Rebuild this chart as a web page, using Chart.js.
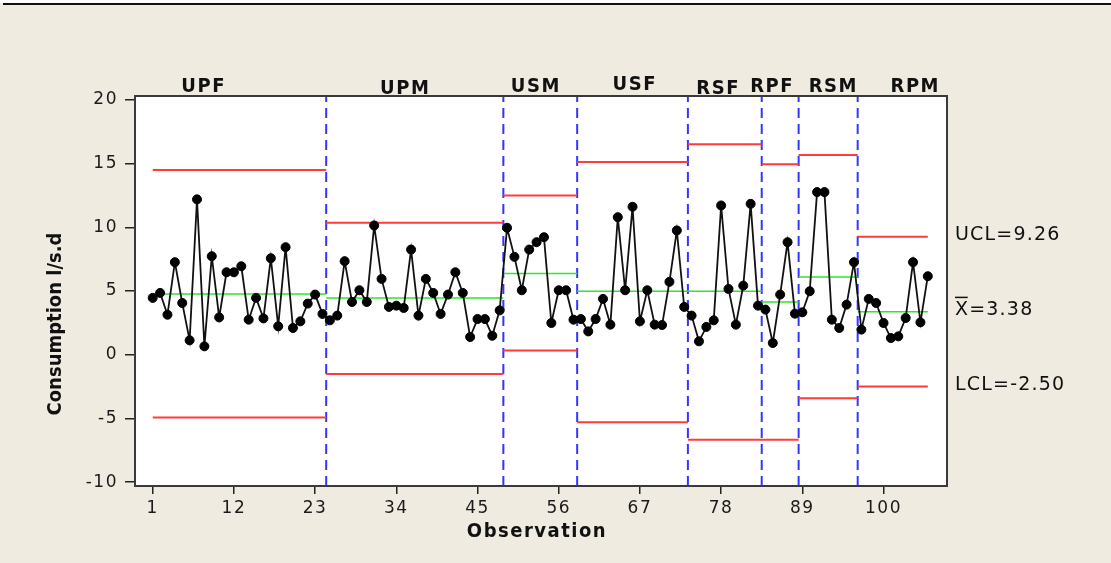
<!DOCTYPE html>
<html>
<head>
<meta charset="utf-8">
<script src="https://cdn.jsdelivr.net/npm/chart.js@4.4.1/dist/chart.umd.min.js"></script>
<style>
  html, body { margin: 0; padding: 0; background: #EFEBE1; }
  #c { display: block; }
</style>
</head>
<body>
<canvas id="c" width="1111" height="563"></canvas>
<script>
// ---- data ----
const groups   = ['UPF', 'UPM', 'USM', 'USF', 'RSF', 'RPF', 'RSM', 'RPM'];
const groupEnd = [24, 48, 58, 73, 83, 88, 96, 106];   // last observation of each group

const consumption = [
  // UPF
  4.46, 4.85, 3.14, 7.26, 4.06, 1.13, 12.19, 0.66, 7.73, 2.93, 6.47, 6.47,
  6.94, 2.75, 4.46, 2.85, 7.57, 2.23, 8.44, 2.10, 2.62, 4.01, 4.72, 3.20,
  // UPM
  2.70, 3.07, 7.34, 4.14, 5.06, 4.14, 10.14, 5.95, 3.75, 3.85, 3.67, 8.25,
  3.07, 5.95, 4.85, 3.20, 4.72, 6.47, 4.85, 1.39, 2.80, 2.80, 1.49, 3.48,
  // USM
  9.96, 7.68, 5.06, 8.25, 8.83, 9.22, 2.49, 5.06, 5.06, 2.75,
  // USF
  2.80, 1.83, 2.80, 4.38, 2.36, 10.79, 5.06, 11.61, 2.62, 5.06, 2.36, 2.33, 5.72, 9.75, 3.75,
  // RSF
  3.07, 1.05, 2.18, 2.70, 11.71, 5.16, 2.36, 5.42, 11.84, 3.85,
  // RPF
  3.54, 0.92, 4.72, 8.83, 3.22,
  // RSM
  3.33, 4.98, 12.76, 12.76, 2.75, 2.10, 3.93, 7.26,
  // RPM
  1.97, 4.38, 4.06, 2.49, 1.31, 1.44, 2.88, 7.26, 2.54, 6.16
];

const ucl = [14.49, 10.35, 12.50, 15.12, 16.51, 14.94, 15.67, 9.26];
const cl  = [4.77, 4.46, 6.37, 4.98, 4.98, 4.14, 6.10, 3.38];
const lcl = [-4.93, -1.52, 0.34, -5.29, -6.68, -6.68, -3.41, -2.50];

const xTicks = [1, 12, 23, 34, 45, 56, 67, 78, 89, 100];
const yTicks = [-10, -5, 0, 5, 10, 15, 20];

// label anchors (observation number at which each group name is centred)
const groupLabelAt = [7.8, 35.1, 52.8, 66.2, 77.5, 84.8, 93.1, 104.2];
const groupLabelLift = [4, 2, 4, 6, 2, 4, 4, 4];

// ---- build datasets ----
const seriesPts = consumption.map((v, i) => ({ x: i + 1, y: v }));

function segStart(i) { return i === 0 ? 1 : groupEnd[i - 1] + 0.5; }
function segStop(i)  { return i === groupEnd.length - 1 ? groupEnd[i] : groupEnd[i] + 0.5; }

function stepLine(vals) {
  const pts = [];
  vals.forEach((v, i) => {
    pts.push({ x: segStart(i), y: v });
    pts.push({ x: segStop(i), y: v });
    pts.push({ x: segStop(i), y: null });
  });
  return pts;
}

const Y_MIN = -10.3, Y_MAX = 20.3;
const boundaryPts = [];
groupEnd.slice(0, -1).forEach(e => {
  boundaryPts.push({ x: e + 0.5, y: Y_MIN });
  boundaryPts.push({ x: e + 0.5, y: Y_MAX });
  boundaryPts.push({ x: e + 0.5, y: null });
});

const FONT_TICK = { family: 'DejaVu Sans', size: 17 };

const decor = {
  id: 'decor',
  beforeDraw(chart) {
    const { ctx, chartArea: a } = chart;
    ctx.save();
    ctx.fillStyle = '#EFEBE1';
    ctx.fillRect(0, 0, chart.width, chart.height);
    ctx.fillStyle = '#ffffff';
    ctx.fillRect(0, 0, chart.width, 3);
    ctx.fillStyle = '#111111';
    ctx.fillRect(3, 3, chart.width - 3, 2);
    ctx.fillStyle = '#ffffff';
    ctx.fillRect(a.left, a.top, a.right - a.left, a.bottom - a.top);
    ctx.restore();
    ctx.letterSpacing = '1.5px';
  },
  afterDraw(chart) {
    const { ctx, chartArea: a, scales } = chart;
    const xs = scales.x, ys = scales.y;
    ctx.letterSpacing = '0px';
    ctx.save();
    // frame
    ctx.strokeStyle = '#3a3a3a';
    ctx.lineWidth = 2;
    ctx.strokeRect(a.left, a.top, a.right - a.left, a.bottom - a.top);

    ctx.fillStyle = '#111';
    // group labels
    ctx.font = 'bold 20px "DejaVu Sans Condensed", "DejaVu Sans"';
    ctx.textAlign = 'center';
    ctx.textBaseline = 'alphabetic';
    ctx.letterSpacing = '1.5px';
    groups.forEach((g, i) => {
      ctx.fillText(g, xs.getPixelForValue(groupLabelAt[i]) + 0.75, a.top - groupLabelLift[i]);
    });

    // x title
    ctx.letterSpacing = '1.5px';
    ctx.fillText('Observation', (a.left + a.right) / 2 - 4, 537);

    // y title
    ctx.letterSpacing = '0px';
    ctx.save();
    ctx.translate(61, 324);
    ctx.rotate(-Math.PI / 2);
    ctx.font = 'bold 20px "DejaVu Sans Condensed", "DejaVu Sans"';
    ctx.textAlign = 'center';
    ctx.fillText('Consumption l/s.d', 0, 0);
    ctx.restore();

    // limit labels (last group)
    const last = groups.length - 1;
    ctx.font = '19px "DejaVu Sans"';
    ctx.textAlign = 'left';
    ctx.textBaseline = 'middle';
    ctx.letterSpacing = '1.2px';
    const lx = a.right + 8;
    ctx.fillText('UCL=' + ucl[last].toFixed(2), lx, ys.getPixelForValue(ucl[last]) - 2);
    ctx.fillText('LCL=' + lcl[last].toFixed(2), lx, ys.getPixelForValue(lcl[last]) - 2);
    const cy = ys.getPixelForValue(cl[last]) - 2;
    ctx.fillText('X', lx, cy);
    const wX = ctx.measureText('X').width;
    ctx.fillText('=' + cl[last].toFixed(2), lx + wX, cy);
    ctx.fillRect(lx, cy - 13, wX - 1.5, 1.5);
    ctx.restore();
  }
};

new Chart(document.getElementById('c'), {
  type: 'line',
  data: {
    datasets: [
      {
        data: seriesPts,
        borderColor: '#111',
        borderWidth: 1.8,
        pointRadius: 4.5,
        pointBackgroundColor: '#000',
        pointBorderColor: '#000',
        pointBorderWidth: 1,
        tension: 0
      },
      { data: stepLine(cl),  borderColor: '#2EE62E', borderWidth: 1.5, pointRadius: 0, spanGaps: false },
      { data: stepLine(ucl), borderColor: '#FF3B3B', borderWidth: 2,   pointRadius: 0, spanGaps: false },
      { data: stepLine(lcl), borderColor: '#FF3B3B', borderWidth: 2,   pointRadius: 0, spanGaps: false },
      { data: boundaryPts,   borderColor: '#3535FF', borderWidth: 2, borderDash: [10, 6], pointRadius: 0, spanGaps: false }
    ]
  },
  options: {
    responsive: false,
    animation: false,
    devicePixelRatio: 1,
    layout: { padding: { left: 0, top: 96, right: 164, bottom: 0 } },
    plugins: { legend: { display: false }, tooltip: { enabled: false } },
    scales: {
      x: {
        type: 'linear',
        min: -1.4,
        max: 108.6,
        afterBuildTicks: s => { s.ticks = xTicks.map(v => ({ value: v })); },
        afterFit: s => { s.height = 77; },
        grid: { drawOnChartArea: false, tickLength: 8, color: '#222', lineWidth: 1.5 },
        border: { display: false },
        ticks: { font: FONT_TICK, color: '#1a1a1a', padding: 4, maxRotation: 0, autoSkip: false,
                 callback: v => String(v) }
      },
      y: {
        type: 'linear',
        min: Y_MIN,
        max: Y_MAX,
        afterBuildTicks: s => { s.ticks = yTicks.map(v => ({ value: v })); },
        afterFit: s => { s.width = 135; },
        grid: { drawOnChartArea: false, tickLength: 10, color: '#222', lineWidth: 1.5 },
        border: { display: false },
        ticks: { font: FONT_TICK, color: '#1a1a1a', padding: 7, callback: v => String(v) }
      }
    }
  },
  plugins: [decor]
});
</script>
</body>
</html>
